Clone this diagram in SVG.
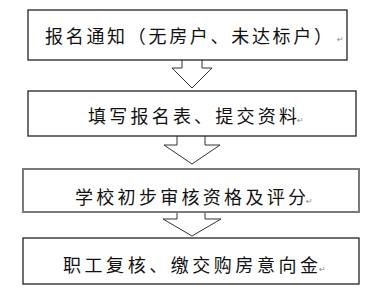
<svg xmlns="http://www.w3.org/2000/svg" width="375" height="306" viewBox="0 0 375 306">
<style>
.box{fill:#fff;stroke:#222;stroke-width:1.3}
.box3{fill:#fff;stroke:#7a7a7a;stroke-width:2}
.arr{fill:#fff;stroke:#333;stroke-width:1}
.t{font-family:"Noto Sans CJK SC","Noto Sans CJK TC",sans-serif;font-size:18px;fill:#111}
.pm{font-family:"DejaVu Sans",sans-serif;font-size:8px;fill:#888}
</style>
<rect width="375" height="306" fill="#fff"/>
<g id="connectors">
<path class="arr" d="M182,60 V68 H172 L192,88 L212,68 H202 V60"/>
<path class="arr" d="M177,136 V145 H164 L192,164 L220,145 H205 V136"/>
<path class="arr" d="M177,212 V219 H163 L192,236 L221,219 H205 V212"/>
</g>
<g id="node1">
<rect class="box" x="28" y="10" width="319" height="50"/>
<text class="t" x="45" y="43" textLength="287" lengthAdjust="spacing">报名通知（无房户、未达标户）</text>
<text class="pm" x="337" y="42">↵</text>
</g>
<g id="node2">
<rect class="box" x="28" y="91" width="328" height="45"/>
<text class="t" x="88" y="123" textLength="209" lengthAdjust="spacing">填写报名表、提交资料</text>
<text class="pm" x="297" y="123">↵</text>
</g>
<g id="node3">
<rect class="box3" x="23" y="169" width="336" height="43"/>
<text class="t" x="75" y="204" textLength="231" lengthAdjust="spacing">学校初步审核资格及评分</text>
<text class="pm" x="306" y="204">↵</text>
</g>
<g id="node4">
<rect class="box" x="23" y="238" width="336" height="46"/>
<text class="t" x="63" y="272" textLength="255" lengthAdjust="spacing">职工复核、缴交购房意向金</text>
<text class="pm" x="319" y="272">↵</text>
</g>
</svg>
